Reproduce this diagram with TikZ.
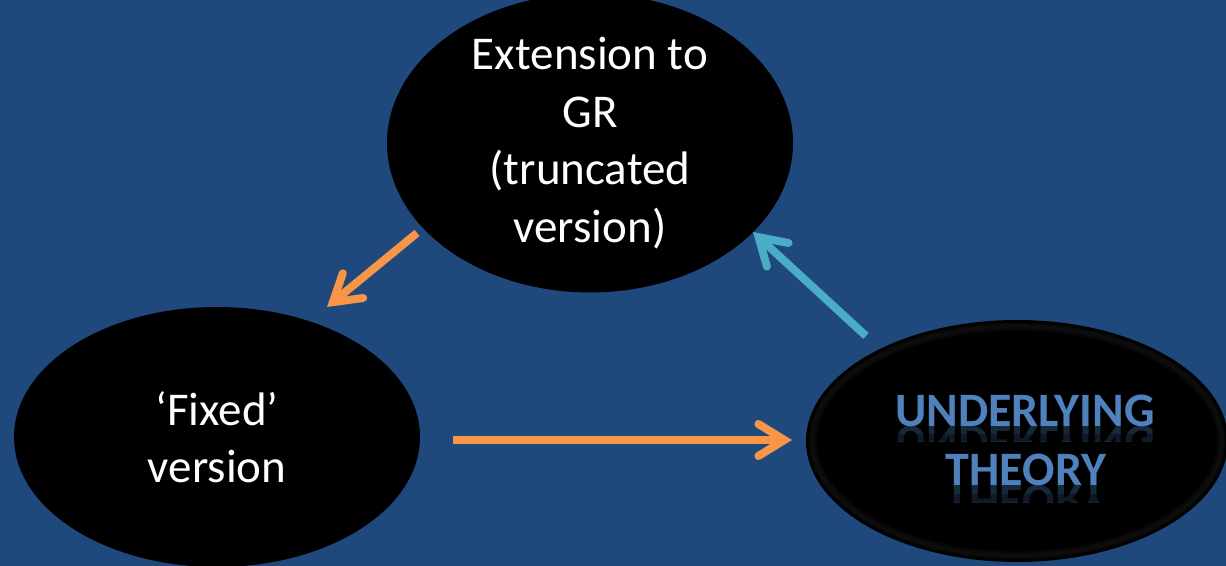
\documentclass[tikz,border=0pt]{standalone}
\usepackage{fontspec}
\setmainfont{Carlito}
\usetikzlibrary{arrows.meta,shapes.geometric,fadings}
\definecolor{bgblue}{HTML}{1F497D}
\definecolor{arrorange}{HTML}{F79646}
\definecolor{arrcyan}{HTML}{4BACC6}
\definecolor{txtblue}{HTML}{4F81BD}
\tikzset{
  bubble/.style={ellipse, fill=black, inner sep=0pt, text=white, align=center,
    font=\fontsize{47bp}{57.5bp}\selectfont},
  arr/.style={line width=8bp,
    -{Straight Barb[length=26bp,width=32bp,line cap=round,line join=miter]}},
  theory/.style={text=txtblue, font=\fontsize{48bp}{48bp}\selectfont\bfseries, inner sep=0pt, anchor=base},
  mirror/.style={text=txtblue!70!black, font=\fontsize{48bp}{48bp}\selectfont\bfseries, inner sep=0pt, anchor=base, yscale=-1, opacity=0.45}
}
\begin{document}
\begin{tikzpicture}[x=1bp,y=-1bp]
\fill[bgblue] (0,0) rectangle (1226,566);
\useasboundingbox (0,0) rectangle (1226,566);
% top ellipse
\node[bubble, minimum width=406bp, minimum height=262bp] (top) at (590,143)
  {Extension to\\GR\\(truncated\\version)};
% left ellipse
\node[bubble, minimum width=406bp, minimum height=260bp] (fixed) at (217,437)
  {`Fixed'\\version};
% right ellipse with bevel glow
\node[ellipse, fill=black, inner sep=0pt, minimum width=422bp, minimum height=242bp] (under) at (1017,441) {};
\foreach \i/\o in {4/0.06,6/0.09,8/0.07,10/0.04}{
  \draw[gray!80, line width=2bp, opacity=\o] (1017,441) ellipse ({211-\i} and {121-\i});
}
\begin{scope}
  \clip (1017,441) ellipse (209 and 119);
  \node[theory] (u1) at (1025,426) {UNDERLYING};
  \node[theory] (u2) at (1026,485) {THEORY};
  \begin{scope}
    \clip (880,426) rectangle (1170,441);
    \node[mirror] at (1025,426) {UNDERLYING};
  \end{scope}
  \begin{scope}
    \clip (880,485) rectangle (1170,502);
    \node[mirror] at (1026,485) {THEORY};
  \end{scope}
  \fill[black, opacity=0.35] (880,434) rectangle (1170,441);
  \fill[black, opacity=0.35] (880,494) rectangle (1170,502);
\end{scope}
% connector end points
\coordinate (t1) at (417,233);
\coordinate (h1) at (327,307);
\coordinate (t2) at (453,440);
\coordinate (h2) at (792,440);
\coordinate (t3) at (866,336);
\coordinate (h3) at (753,232);
\draw[arr, arrorange] (t1) -- (h1);
\draw[arr, arrorange] (t2) -- (h2);
\draw[arr, arrcyan] (t3) -- (h3);
\end{tikzpicture}
\end{document}
